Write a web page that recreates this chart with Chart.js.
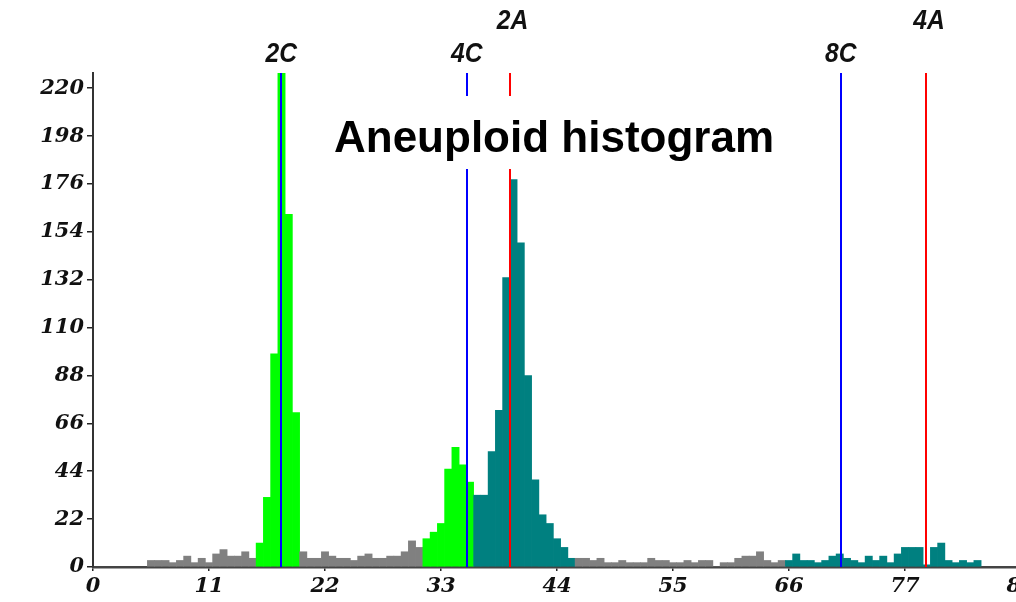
<!DOCTYPE html>
<html>
<head>
<meta charset="utf-8">
<title>Aneuploid histogram</title>
<script src="https://cdn.jsdelivr.net/npm/chart.js@4.4.1/dist/chart.umd.min.js"></script>
<style>
  html, body { margin: 0; padding: 0; background: #fff; overflow: hidden; }
  #wrap { position: absolute; left: 0; top: 0; width: 1040px; height: 602px; }
</style>
</head>
<body>
<div id="wrap"><canvas id="hist" width="1040" height="602"></canvas></div>
<script>
	// ******************************************************** DATA

	var channelWidth = 0.6875;          // DNA units per channel
	var firstChannel = 8;               // channels below this are empty

	// cell counts per channel, starting at firstChannel
	var counts = [
		3, 3, 3, 2, 3, 5, 2, 4, 2, 6, 8, 5, 5, 7, 4,
		11, 32, 98, 240, 162, 71,
		7, 4, 4, 7, 5, 4, 4, 3, 5, 6, 4, 4, 5, 5, 7, 12, 9,
		13, 16, 20, 45, 55, 47, 39,
		33, 33, 53, 72, 133, 178, 149, 88, 40, 24, 20, 13, 9, 4,
		4, 4, 3, 4, 2, 2, 3, 2, 2, 2, 4, 3, 3, 2, 2, 3, 2, 3, 3, 0, 2, 2, 4, 5, 5, 7, 3, 2, 3,
		3, 6, 3, 3, 2, 3, 5, 6, 4, 3, 2, 5, 3, 5, 2, 6, 9, 9, 9, 1, 9, 11, 3, 2, 3, 2, 3
	];

	// gated channel ranges (inclusive)
	var diploidGates   = [ [23, 28], [46, 52] ];
	var aneuploidGates = [ [53, 66], [96, 122] ];

	// reference lines
	var diploidNames    = [ "2C", "4C", "8C" ];
	var diploidPos      = [ 17.85, 35.45, 70.9 ];
	var aneuploidNames  = [ "2A", "4A" ];
	var aneuploidPos    = [ 39.5, 79.0 ];

	var xTicks = [ 0, 11, 22, 33, 44, 55, 66, 77, 88 ];
	var yTicks = [ 0, 22, 44, 66, 88, 110, 132, 154, 176, 198, 220 ];

	// ******************************************************** HELPERS

	function inGate(ch, gates) {
		for (var g = 0; g < gates.length; g++)
			if (ch >= gates[g][0] && ch <= gates[g][1]) return true;
		return false;
	}

	var points = counts.map(function (c, i) {
		return { x: (firstChannel + i) * channelWidth, y: c };
	});
	var barColors = counts.map(function (c, i) {
		var ch = firstChannel + i;
		if (inGate(ch, diploidGates)) return "#00ff00";
		if (inGate(ch, aneuploidGates)) return "#008080";
		return "#808080";
	});

	var tickFont = { family: '"DejaVu Serif", "Liberation Serif", serif', size: 21, style: 'italic', weight: 'bold' };

	function drawMarkerLabel(ctx, text, x, y) {
		ctx.save();
		ctx.translate(x, y);
		ctx.scale(0.88, 1);
		ctx.font = 'italic bold 28px "Liberation Sans", Arial, sans-serif';
		ctx.textAlign = 'center';
		ctx.textBaseline = 'alphabetic';
		ctx.fillStyle = '#111';
		ctx.fillText(text, 0, 0);
		ctx.restore();
	}

	// marker lines, their labels and the boxed title
	var overlay = {
		id: 'overlay',
		afterDatasetsDraw: function (chart) {
			var ctx = chart.ctx, area = chart.chartArea, xs = chart.scales.x;
			ctx.save();
			ctx.lineWidth = 2;

			ctx.strokeStyle = '#0000ff';
			diploidPos.forEach(function (v) {
				var px = Math.round(xs.getPixelForValue(v));
				ctx.beginPath(); ctx.moveTo(px, area.top); ctx.lineTo(px, area.bottom); ctx.stroke();
			});
			ctx.strokeStyle = '#ff0000';
			aneuploidPos.forEach(function (v) {
				var px = Math.round(xs.getPixelForValue(v));
				ctx.beginPath(); ctx.moveTo(px, area.top); ctx.lineTo(px, area.bottom); ctx.stroke();
			});

			diploidNames.forEach(function (n, i) {
				drawMarkerLabel(ctx, n, xs.getPixelForValue(diploidPos[i]), area.top - 11);
			});
			aneuploidNames.forEach(function (n, i) {
				drawMarkerLabel(ctx, n, xs.getPixelForValue(aneuploidPos[i]) + 3, area.top - 44);
			});

			// title on a white box
			ctx.fillStyle = '#fff';
			ctx.fillRect(326, 96, 458, 73);
			ctx.font = 'bold 44px "Liberation Sans", Arial, sans-serif';
			ctx.textAlign = 'center';
			ctx.textBaseline = 'alphabetic';
			ctx.fillStyle = '#000';
			ctx.fillText('Aneuploid histogram', 554, 152);
			ctx.restore();
		}
	};

	// ******************************************************** CHART

	var config = {
		type: 'bar',
		data: {
			datasets: [{
				data: points,
				backgroundColor: barColors,
				borderWidth: 0,
				barPercentage: 1,
				categoryPercentage: 1
			}]
		},
		options: {
			responsive: false,
			animation: false,
			layout: { padding: { top: 73, right: 19, left: 0, bottom: 0 } },
			plugins: { legend: { display: false }, tooltip: { enabled: false } },
			scales: {
				x: {
					type: 'linear',
					min: 0, max: 88,
					offset: false,
					afterBuildTicks: function (s) { s.ticks = xTicks.map(function (v) { return { value: v }; }); },
					afterFit: function (s) { s.height = 35; },
					grid: { offset: false, drawOnChartArea: false, tickLength: 4, color: '#222', lineWidth: 1.5 },
					border: { color: '#444', width: 2.5 },
					ticks: { font: tickFont, color: '#111', padding: 3, maxRotation: 0, autoSkip: false }
				},
				y: {
					min: 0, max: 227,
					afterBuildTicks: function (s) { s.ticks = yTicks.map(function (v) { return { value: v }; }); },
					afterFit: function (s) { s.width = 93; },
					grid: { drawOnChartArea: false, tickLength: 6, color: '#222', lineWidth: 1.5 },
					border: { color: '#333', width: 2 },
					ticks: { font: tickFont, color: '#111', padding: 3, autoSkip: false }
				}
			}
		},
		plugins: [ overlay ]
	};

	var _ctx = document.getElementById("hist").getContext("2d");
	window.myHist = new Chart(_ctx, config);
</script>
</body>
</html>
